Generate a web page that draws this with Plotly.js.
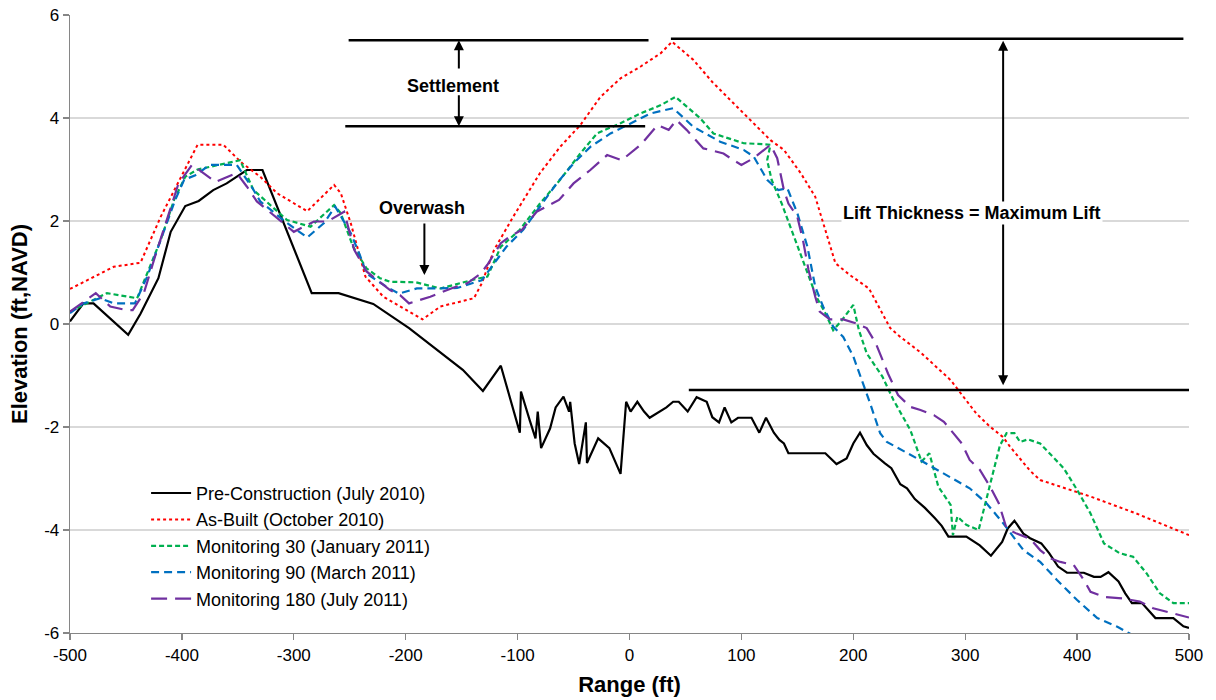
<!DOCTYPE html>
<html>
<head>
<meta charset="utf-8">
<script src="https://cdn.plot.ly/plotly-3.0.1.min.js"></script>
<style>html,body{margin:0;padding:0;background:#fff;}#chart{width:1216px;height:700px;}</style>
</head>
<body>
<div id="chart"></div>
<script>
// ---------------- data ----------------
const seriesNames = [
  "Pre-Construction (July 2010)",
  "As-Built (October 2010)",
  "Monitoring 30 (January 2011)",
  "Monitoring 90 (March 2011)",
  "Monitoring 180 (July 2011)"
];

const preX = [-500,-488,-479,-448,-437,-421,-410,-397,-385,-372,-360,-342,-328,-284,-260,-229,-197,-169,-149,-131,-115,-98,-97,-89,-84,-82,-79,-71,-66,-59,-54,-53,-49,-45,-39,-38,-28,-18,-8,-3,1,7,13,18,26,33,39,44,52,60,69,74,80,85,91,97,109,116,122,129,134,138,142,175,185,194,200,206,212,218,228,234,242,248,255,264,273,279,285,301,313,323,333,338,344,352,358,368,375,383,391,406,415,421,428,437,443,449,458,470,486,495,500];
const preY = [0.05,0.40,0.40,-0.21,0.20,0.89,1.79,2.29,2.39,2.60,2.73,2.99,2.99,0.60,0.60,0.39,-0.08,-0.56,-0.89,-1.30,-0.81,-2.11,-1.31,-1.88,-2.22,-1.70,-2.41,-2.03,-1.62,-1.41,-1.70,-1.51,-2.32,-2.72,-1.91,-2.70,-2.22,-2.41,-2.91,-1.51,-1.70,-1.51,-1.70,-1.82,-1.71,-1.62,-1.51,-1.51,-1.70,-1.42,-1.51,-1.81,-1.91,-1.62,-1.91,-1.82,-1.82,-2.11,-1.82,-2.11,-2.25,-2.32,-2.51,-2.51,-2.72,-2.61,-2.32,-2.11,-2.35,-2.52,-2.70,-2.80,-3.11,-3.19,-3.40,-3.57,-3.77,-3.92,-4.13,-4.13,-4.30,-4.50,-4.23,-3.97,-3.82,-4.07,-4.16,-4.26,-4.45,-4.71,-4.83,-4.83,-4.91,-4.91,-4.82,-5.00,-5.23,-5.42,-5.42,-5.71,-5.71,-5.87,-5.90];

const builtX = [-500,-461,-437,-419,-403,-386,-363,-346,-330,-315,-288,-264,-258,-249,-236,-220,-185,-169,-139,-132,-121,-104,-80,-62,-44,-26,-8,10,28,38,57,74,90,105,126,138,153,166,173,184,197,214,233,242,260,275,287,310,322,334,340,358,367,412,453,500];
const builtY = [0.68,1.11,1.19,2.08,2.76,3.48,3.48,3.12,2.86,2.54,2.19,2.70,2.54,1.95,0.92,0.53,0.09,0.34,0.50,0.79,1.44,2.08,2.93,3.44,3.86,4.41,4.77,5.00,5.26,5.48,5.13,4.70,4.35,4.03,3.57,3.38,2.93,2.47,1.96,1.18,0.95,0.69,-0.08,-0.25,-0.55,-0.85,-1.09,-1.74,-1.99,-2.20,-2.38,-2.85,-3.03,-3.35,-3.68,-4.10];

const m30X = [-500,-467,-440,-431,-419,-407,-397,-386,-366,-348,-336,-306,-285,-264,-258,-247,-235,-223,-214,-191,-169,-151,-136,-127,-115,-98,-80,-62,-44,-29,-8,10,28,41,63,75,102,121,126,123,127,136,147,159,167,175,182,190,200,205,212,226,236,251,261,268,276,287,289,293,301,312,322,331,337,344,349,356,367,377,388,400,412,424,438,450,462,474,486,500];
const m30Y = [0.24,0.60,0.50,0.98,1.63,2.41,2.86,3.00,3.09,3.18,2.60,2.02,1.89,2.31,2.15,1.50,1.08,0.89,0.82,0.81,0.69,0.80,0.88,0.92,1.50,1.83,2.34,2.80,3.31,3.70,3.90,4.09,4.25,4.41,4.00,3.70,3.51,3.49,3.48,3.18,2.80,2.34,1.70,0.98,0.53,0.21,-0.12,0.08,0.37,-0.12,-0.57,-1.02,-1.48,-2.06,-2.67,-2.51,-3.16,-3.51,-4.10,-3.74,-3.90,-4.00,-3.12,-2.36,-2.12,-2.12,-2.29,-2.24,-2.32,-2.54,-2.80,-3.22,-3.68,-4.26,-4.45,-4.52,-4.84,-5.23,-5.42,-5.42];

const m90X = [-500,-488,-473,-461,-442,-431,-419,-406,-398,-388,-375,-351,-337,-330,-306,-288,-273,-263,-249,-241,-235,-217,-206,-190,-172,-154,-132,-121,-110,-95,-80,-65,-50,-35,-17,1,19,39,57,81,102,111,123,133,141,150,159,166,173,182,191,200,207,215,224,230,257,281,304,319,334,352,367,382,400,418,436,447,460];
const m90Y = [0.21,0.40,0.50,0.40,0.40,0.92,1.63,2.41,2.80,2.89,3.09,3.09,2.64,2.38,1.96,1.68,1.96,2.28,1.76,1.34,0.98,0.72,0.59,0.69,0.69,0.70,0.85,1.18,1.50,1.83,2.28,2.73,3.12,3.44,3.70,3.90,4.09,4.19,3.83,3.54,3.38,3.25,2.80,2.60,2.64,2.15,1.50,0.72,0.34,-0.05,-0.25,-0.63,-1.05,-1.54,-2.12,-2.29,-2.61,-2.90,-3.19,-3.48,-3.87,-4.39,-4.62,-4.97,-5.36,-5.71,-5.88,-6.01,-6.25];

const m180X = [-500,-477,-464,-450,-444,-434,-424,-403,-391,-370,-351,-342,-333,-300,-282,-270,-255,-246,-235,-214,-205,-197,-178,-157,-145,-133,-127,-115,-107,-96,-83,-63,-50,-35,-20,-7,10,25,35,42,51,66,72,84,93,100,111,126,132,138,142,150,155,160,166,170,179,191,203,212,220,231,240,251,260,272,281,289,297,304,313,322,330,337,346,358,367,376,385,397,406,412,424,441,456,468,486,500];
const m180Y = [0.24,0.60,0.34,0.27,0.27,0.60,1.31,2.73,3.09,2.76,2.93,2.67,2.38,1.79,1.99,1.99,2.18,1.44,1.02,0.66,0.56,0.40,0.53,0.71,0.79,0.98,1.15,1.57,1.70,1.83,2.18,2.41,2.73,2.99,3.28,3.18,3.48,3.86,3.77,3.96,3.77,3.41,3.38,3.31,3.18,3.09,3.22,3.48,3.22,2.60,2.34,2.08,1.63,1.05,0.53,0.24,0.09,0.09,0.01,-0.08,-0.37,-0.96,-1.38,-1.61,-1.67,-1.77,-1.90,-2.12,-2.32,-2.64,-2.83,-3.15,-3.48,-3.97,-4.07,-4.17,-4.39,-4.55,-4.62,-4.68,-4.97,-5.20,-5.30,-5.33,-5.39,-5.52,-5.62,-5.70];

const xTickVals = [-500,-400,-300,-200,-100,0,100,200,300,400,500];
const xTickText = ["-500","-400","-300","-200","-100","0","100","200","300","400","500"];
const yTickVals = [-6,-4,-2,0,2,4,6];
const yTickText = ["-6","-4","-2","0","2","4","6"];

// ---------------- chart ----------------
const FONT = "Liberation Sans, Arial, sans-serif";
const traces = [
  {x: preX, y: preY, name: seriesNames[0], line: {color: "#000000", width: 2.2, dash: "solid"}},
  {x: builtX, y: builtY, name: seriesNames[1], line: {color: "#ff0000", width: 2, dash: "dot"}},
  {x: m30X, y: m30Y, name: seriesNames[2], line: {color: "#00b050", width: 2.2, dash: "5px,3px"}},
  {x: m90X, y: m90Y, name: seriesNames[3], line: {color: "#0070c0", width: 2.2, dash: "8px,5px"}},
  {x: m180X, y: m180Y, name: seriesNames[4], line: {color: "#7030a0", width: 2.2, dash: "16px,8px"}}
].map(t => Object.assign({type: "scatter", mode: "lines", hoverinfo: "skip"}, t));

const blackLine = {color: "#000000", width: 2.5};
const shapes = [
  {type: "line", xref: "x", yref: "y", x0: -251, x1: 17, y0: 5.51, y1: 5.51, line: blackLine},
  {type: "line", xref: "x", yref: "y", x0: -254, x1: 14, y0: 3.84, y1: 3.84, line: blackLine},
  {type: "line", xref: "x", yref: "y", x0: 37, x1: 495, y0: 5.54, y1: 5.54, line: blackLine},
  {type: "line", xref: "x", yref: "y", x0: 53, x1: 500, y0: -1.28, y1: -1.28, line: blackLine}
];

const arrowBase = {xref: "x", yref: "y", axref: "x", ayref: "y", text: "", showarrow: true,
  arrowhead: 2, arrowsize: 1, arrowwidth: 2, arrowcolor: "#000000"};
const bold = {family: FONT, size: 18, color: "#000000", weight: "bold"};
const annotations = [
  Object.assign({}, arrowBase, {x: -152.5, y: 5.51, ax: -152.5, ay: 4.93}),
  Object.assign({}, arrowBase, {x: -152.5, y: 3.84, ax: -152.5, ay: 4.47}),
  Object.assign({}, arrowBase, {x: -183.3, y: 0.95, ax: -183.3, ay: 1.98}),
  Object.assign({}, arrowBase, {x: 333.9, y: 5.50, ax: 333.9, ay: -1.22, arrowside: "end+start", startarrowhead: 2, startarrowsize: 1}),
  {xref: "x", yref: "y", x: -158, y: 4.62, text: "<b>Settlement</b>", showarrow: false, font: bold},
  {xref: "x", yref: "y", x: -185, y: 2.25, text: "<b>Overwash</b>", showarrow: false, font: bold},
  {xref: "x", yref: "y", x: 306, y: 2.16, text: "<b>Lift Thickness = Maximum Lift</b>", showarrow: false, font: bold, bgcolor: "#ffffff"}
];

const layout = {
  width: 1216, height: 700,
  margin: {l: 70, r: 27, t: 15, b: 67, pad: 0},
  paper_bgcolor: "#ffffff", plot_bgcolor: "#ffffff",
  font: {family: FONT, size: 17, color: "#000000"},
  showlegend: true,
  legend: {x: 0.068, y: 0.256, xanchor: "left", yanchor: "top", bgcolor: "rgba(0,0,0,0)",
    font: {family: FONT, size: 18, color: "#000000"}, itemwidth: 40, tracegroupgap: 0},
  xaxis: {
    range: [-500, 500], tickvals: xTickVals, ticktext: xTickText,
    showgrid: false, zeroline: false, showline: true, linecolor: "#868686", linewidth: 1.3,
    ticks: "outside", ticklen: 6, tickcolor: "#868686", tickwidth: 1.3,
    tickfont: {family: FONT, size: 17, color: "#000000"},
    title: {text: "<b>Range (ft)</b>", font: {family: FONT, size: 22, color: "#000000"}, standoff: 13}
  },
  yaxis: {
    range: [-6, 6], tickvals: yTickVals, ticktext: yTickText,
    showgrid: true, gridcolor: "#d9d9d9", gridwidth: 1.3, zeroline: false,
    showline: true, linecolor: "#868686", linewidth: 1.3,
    ticks: "outside", ticklen: 6, tickcolor: "#868686", tickwidth: 1.3,
    tickfont: {family: FONT, size: 17, color: "#000000"},
    title: {text: "<b>Elevation (ft,NAVD)</b>", font: {family: FONT, size: 22, color: "#000000"}, standoff: 10}
  },
  shapes: shapes,
  annotations: annotations
};

Plotly.newPlot("chart", traces, layout, {staticPlot: true, displayModeBar: false});
</script>
</body>
</html>
